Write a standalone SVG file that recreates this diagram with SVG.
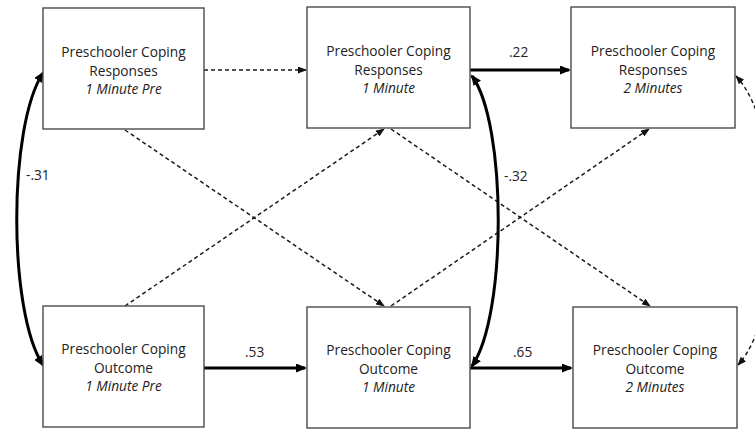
<svg xmlns="http://www.w3.org/2000/svg" width="755" height="430" viewBox="0 0 755 430">
<defs>
<style>
.box{fill:#fff;stroke:#4a4a4a;stroke-width:1.4}
.t{font-family:"Open Sans","DejaVu Sans",sans-serif;font-size:13.7px;fill:#222;text-anchor:middle}
.i{font-style:italic}
.lbl{font-family:"Open Sans","DejaVu Sans",sans-serif;font-size:13.7px;fill:#222}
.thick{fill:none;stroke:#000;stroke-width:3}
.dash{fill:none;stroke:#1a1a1a;stroke-width:1.5;stroke-dasharray:4 3}
</style>
<marker id="ah" markerWidth="11" markerHeight="9" refX="9" refY="4.5" orient="auto-start-reverse" markerUnits="userSpaceOnUse" viewBox="0 0 11 9">
<path d="M0,0 L11,4.5 L0,9 z" fill="#000"/>
</marker>
<marker id="dh" markerWidth="9" markerHeight="7" refX="8" refY="3.5" orient="auto-start-reverse" markerUnits="userSpaceOnUse" viewBox="0 0 9 7">
<path d="M0,0 L9,3.5 L0,7 z" fill="#111"/>
</marker>
</defs>
<rect width="755" height="430" fill="#fff"/>
<g id="connectors">
<path class="dash" d="M204 70 L306 70" marker-end="url(#dh)"/>
<path class="thick" d="M470 70 L569 70" marker-end="url(#ah)"/>
<path class="thick" d="M204 368 L305 368" marker-end="url(#ah)"/>
<path class="thick" d="M470 368 L571 368" marker-end="url(#ah)"/>
<path class="dash" d="M125 130 L384 306" marker-end="url(#dh)"/>
<path class="dash" d="M125 306 L384 129" marker-end="url(#dh)"/>
<path class="dash" d="M391 129 L650 306" marker-end="url(#dh)"/>
<path class="dash" d="M391 306 L649 129" marker-end="url(#dh)"/>
<path class="thick" d="M43 73 C 8 126, 8 312, 43 365" marker-start="url(#ah)" marker-end="url(#ah)"/>
<path class="thick" d="M472 76 C 507 124, 507 316, 472 366" marker-start="url(#ah)" marker-end="url(#ah)"/>
<path class="dash" d="M736 76 C 786 130, 786 312, 738 365" marker-start="url(#dh)" marker-end="url(#dh)"/>
<text class="lbl" x="509" y="57">.22</text>
<text class="lbl" x="245" y="357">.53</text>
<text class="lbl" x="513" y="357">.65</text>
<text class="lbl" x="26" y="180">-.31</text>
<text class="lbl" x="504" y="181">-.32</text>
</g>
<g id="resp-1min-pre">
<rect class="box" x="43" y="8" width="161" height="121"/>
<text class="t" x="123.5" y="57">Preschooler Coping</text>
<text class="t" x="123.5" y="75.5">Responses</text>
<text class="t i" x="123.5" y="94">1 Minute Pre</text>
</g>
<g id="resp-1min">
<rect class="box" x="307" y="7" width="163" height="121"/>
<text class="t" x="388.5" y="56">Preschooler Coping</text>
<text class="t" x="388.5" y="74.5">Responses</text>
<text class="t i" x="388.5" y="93">1 Minute</text>
</g>
<g id="resp-2min">
<rect class="box" x="571" y="7" width="164" height="121"/>
<text class="t" x="653" y="56">Preschooler Coping</text>
<text class="t" x="653" y="74.5">Responses</text>
<text class="t i" x="653" y="93">2 Minutes</text>
</g>
<g id="out-1min-pre">
<rect class="box" x="43" y="306" width="161" height="121"/>
<text class="t" x="123.5" y="354">Preschooler Coping</text>
<text class="t" x="123.5" y="372.5">Outcome</text>
<text class="t i" x="123.5" y="391">1 Minute Pre</text>
</g>
<g id="out-1min">
<rect class="box" x="307" y="307" width="163" height="121"/>
<text class="t" x="388.5" y="355">Preschooler Coping</text>
<text class="t" x="388.5" y="373.5">Outcome</text>
<text class="t i" x="388.5" y="392">1 Minute</text>
</g>
<g id="out-2min">
<rect class="box" x="573" y="307" width="164" height="121"/>
<text class="t" x="655" y="355">Preschooler Coping</text>
<text class="t" x="655" y="373.5">Outcome</text>
<text class="t i" x="655" y="392">2 Minutes</text>
</g>
</svg>
